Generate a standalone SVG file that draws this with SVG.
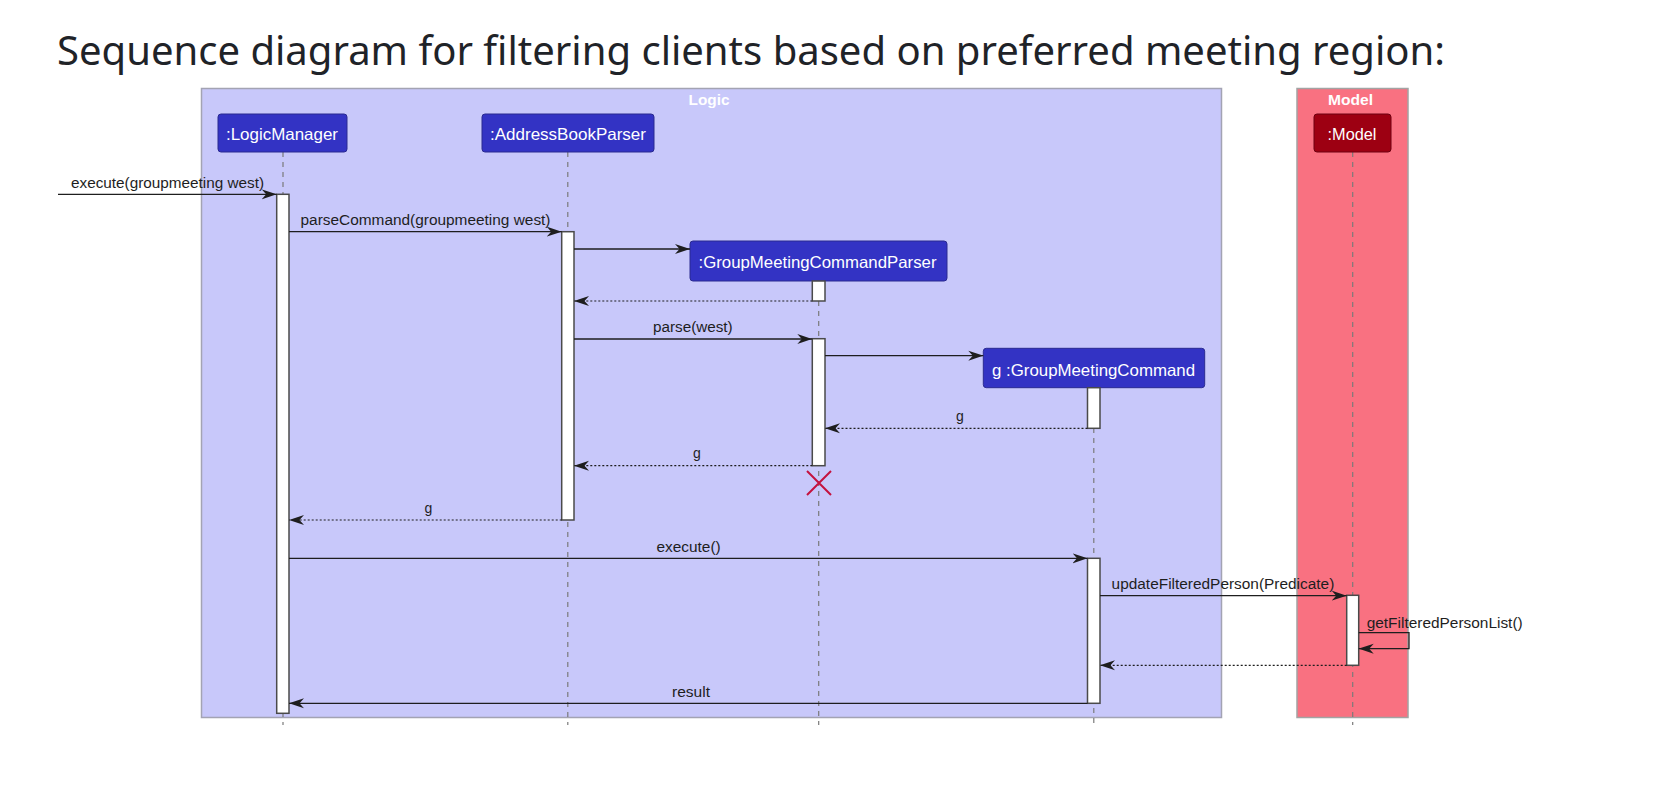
<svg xmlns="http://www.w3.org/2000/svg" width="1654" height="792" viewBox="0 0 1654 792">
<style>
.title{font-family:"Noto Sans","Open Sans","Liberation Sans",sans-serif;font-size:40px;fill:#1f2328}
.frame-logic{fill:#C8C8FA;stroke:#A3A3B3;stroke-width:1.5}
.frame-model{fill:#F97181;stroke:#A3A3A3;stroke-width:1.5}
.flabel{font-family:"Liberation Sans",Arial,sans-serif;font-size:14px;font-weight:bold;fill:#ffffff;text-anchor:middle}
.pbox{fill:#3333C4;stroke:#2A2A90;stroke-width:1}
.mbox{fill:#9D0012;stroke:#6E0010;stroke-width:1}
.ptext{font-family:"Liberation Sans",Arial,sans-serif;font-size:16.5px;fill:#ffffff}
.life{stroke:#7a7a7a;stroke-width:1.2;stroke-dasharray:5,5;fill:none}
.act{fill:#ffffff;stroke:#4a4a4a;stroke-width:1.5}
.msg{stroke:#1e1e1e;stroke-width:1.3;fill:none;marker-end:url(#ah)}
.ret{stroke:#1e1e1e;stroke-width:1.2;stroke-dasharray:2,2;fill:none;marker-end:url(#ah)}
.mtext{font-family:"Liberation Sans",Arial,sans-serif;font-size:14px;fill:#1e1e1e}
.destroy{stroke:#C4123E;stroke-width:2;fill:none}
</style>
<defs>
<marker id="ah" viewBox="0 0 15 11" refX="15" refY="5.5" markerWidth="15" markerHeight="11" markerUnits="userSpaceOnUse" orient="auto">
<path d="M0,0.5 L15,5.5 L0,10.5 L4.5,5.5 Z" fill="#1e1e1e"/>
</marker>
</defs>
<rect x="0" y="0" width="1654" height="792" fill="#ffffff"/>
<text class="title" x="57" y="65" textLength="1388" lengthAdjust="spacingAndGlyphs">Sequence diagram for filtering clients based on preferred meeting region:</text>

<g id="frame-logic">
<rect class="frame-logic" x="201.5" y="88.5" width="1020" height="629"/>
<text class="flabel" x="709" y="105" textLength="41" lengthAdjust="spacingAndGlyphs">Logic</text>
</g>
<g id="frame-model">
<rect class="frame-model" x="1297" y="88.5" width="111" height="629"/>
<text class="flabel" x="1350.5" y="105" textLength="45" lengthAdjust="spacingAndGlyphs">Model</text>
</g>

<g id="lifelines">
<line class="life" x1="283" y1="152" x2="283" y2="725"/>
<line class="life" x1="567.8" y1="152" x2="567.8" y2="725"/>
<line class="life" x1="818.7" y1="281" x2="818.7" y2="725"/>
<line class="life" x1="1093.8" y1="388" x2="1093.8" y2="725"/>
<line class="life" x1="1352.7" y1="152" x2="1352.7" y2="725"/>
</g>

<g id="LogicManager">
<rect class="pbox" x="218" y="114" width="129" height="38" rx="3"/>
<text class="ptext" x="226" y="140" textLength="112" lengthAdjust="spacingAndGlyphs">:LogicManager</text>
</g>
<g id="AddressBookParser">
<rect class="pbox" x="482" y="114" width="172" height="38" rx="3"/>
<text class="ptext" x="490" y="140" textLength="156" lengthAdjust="spacingAndGlyphs">:AddressBookParser</text>
</g>
<g id="GroupMeetingCommandParser">
<rect class="pbox" x="690" y="241" width="257" height="40" rx="3"/>
<text class="ptext" x="698.5" y="268" textLength="238" lengthAdjust="spacingAndGlyphs">:GroupMeetingCommandParser</text>
</g>
<g id="GroupMeetingCommand">
<rect class="pbox" x="983.3" y="348.3" width="221.4" height="39.4" rx="3"/>
<text class="ptext" x="992" y="376" textLength="203" lengthAdjust="spacingAndGlyphs">g :GroupMeetingCommand</text>
</g>
<g id="Model">
<rect class="mbox" x="1314" y="114" width="77" height="38" rx="3"/>
<text class="ptext" x="1327.5" y="140" textLength="49" lengthAdjust="spacingAndGlyphs">:Model</text>
</g>

<g id="activations">
<rect class="act" x="276.7" y="194.3" width="12.3" height="519"/>
<rect class="act" x="561.7" y="231.7" width="12.3" height="288.3"/>
<rect class="act" x="812.3" y="281" width="12.7" height="20"/>
<rect class="act" x="812.3" y="338.7" width="12.7" height="127"/>
<rect class="act" x="1087.5" y="387.7" width="12.5" height="40.6"/>
<rect class="act" x="1087.5" y="558.3" width="12.5" height="145"/>
<rect class="act" x="1346.7" y="595.3" width="12" height="70"/>
</g>

<g id="connectors">
<line class="msg" x1="58" y1="194.3" x2="276.7" y2="194.3"/>
<text class="mtext" x="71" y="188" textLength="193" lengthAdjust="spacingAndGlyphs">execute(groupmeeting west)</text>

<line class="msg" x1="289" y1="231.7" x2="561.7" y2="231.7"/>
<text class="mtext" x="300.5" y="225.3" textLength="250" lengthAdjust="spacingAndGlyphs">parseCommand(groupmeeting west)</text>

<line class="msg" x1="574" y1="249" x2="690" y2="249"/>

<line class="ret" x1="812.3" y1="301" x2="574" y2="301"/>

<line class="msg" x1="574" y1="339" x2="812.3" y2="339"/>
<text class="mtext" x="653" y="332" textLength="79.7" lengthAdjust="spacingAndGlyphs">parse(west)</text>

<line class="msg" x1="825" y1="355.7" x2="983.3" y2="355.7"/>

<line class="ret" x1="1087.5" y1="428.3" x2="825" y2="428.3"/>
<text class="mtext" x="956" y="421">g</text>

<line class="ret" x1="812.3" y1="465.7" x2="574" y2="465.7"/>
<text class="mtext" x="693" y="458">g</text>

<path class="destroy" d="M807,471 L831,495 M831,471 L807,495"/>

<line class="ret" x1="561.7" y1="520" x2="289" y2="520"/>
<text class="mtext" x="424.5" y="513">g</text>

<line class="msg" x1="289" y1="558.3" x2="1087.5" y2="558.3"/>
<text class="mtext" x="656.4" y="552" textLength="64.3" lengthAdjust="spacingAndGlyphs">execute()</text>

<line class="msg" x1="1100" y1="595.7" x2="1346.7" y2="595.7"/>
<text class="mtext" x="1111.6" y="589.3" textLength="222.7" lengthAdjust="spacingAndGlyphs">updateFilteredPerson(Predicate)</text>

<polyline class="msg" points="1358.7,632.7 1409,632.7 1409,648.7 1358.7,648.7"/>
<text class="mtext" x="1366.7" y="627.5" textLength="156" lengthAdjust="spacingAndGlyphs">getFilteredPersonList()</text>

<line class="ret" x1="1346.7" y1="665.3" x2="1100" y2="665.3"/>

<line class="msg" x1="1087.5" y1="703.3" x2="289" y2="703.3"/>
<text class="mtext" x="672" y="697" textLength="38" lengthAdjust="spacingAndGlyphs">result</text>
</g>
</svg>
